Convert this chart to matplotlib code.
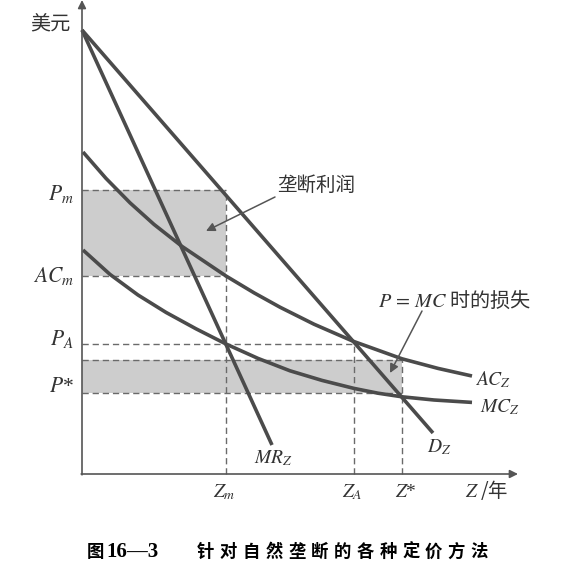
"""Natural monopoly pricing: demand, MR, AC and MC curves with the profit and loss areas."""

import matplotlib
matplotlib.use('Agg')
import matplotlib.pyplot as plt

plt.rcParams['mathtext.fontset'] = 'stix'
cjk = ['Noto Sans CJK SC', 'DejaVu Sans']

# curves (quantity, dollars)
demand_q = [0.0, 8.775]
demand_p = [11.1, 1.025]
mr_q = [0.0, 4.75]
mr_p = [11.1, 0.725]
ac_q = [0.025, 0.6, 1.2, 1.8, 2.5, 3.6, 4.3, 4.95, 5.8, 6.775, 8.0, 8.9, 9.75]
ac_p = [8.05, 7.39, 6.78, 6.24, 5.69, 4.95, 4.53, 4.17, 3.745, 3.32, 2.88, 2.64, 2.45]
mc_q = [0.025, 0.7, 1.4, 2.1, 2.85, 3.6, 4.4, 5.2, 6.0, 6.8, 7.4, 8.0, 8.8, 9.75]
mc_p = [5.6, 4.99, 4.475, 4.04, 3.63, 3.25, 2.89, 2.58, 2.34, 2.14, 2.02, 1.93, 1.85, 1.79]

# marked levels
z_m, z_a, z_star = 3.6, 6.8, 8.0
p_m, ac_m, p_a, ac_star, p_star = 7.1, 4.95, 3.25, 2.85, 2.025
axis_top, axis_right = 11.85, 10.9

curve_col = '#4b4b4b'
dash_col = '#6a6a6a'
shade_col = '#cdcdcd'


def draw_chart():
    fig = plt.figure(figsize=(5.66, 5.66), dpi=100)
    ax = fig.add_axes([0, 0, 1, 1])
    ax.set_xlim(-2.05, 12.1)
    ax.set_ylim(-2.3, 11.85)
    ax.axis('off')

    # shaded areas
    ax.fill_between([0, z_m], ac_m, p_m, color=shade_col, lw=0, zorder=1)
    ax.fill_between([0, z_star], p_star, ac_star, color=shade_col, lw=0, zorder=1)

    # dashed guide lines
    dash = dict(color=dash_col, lw=1.0, dashes=(4.5, 2.8), zorder=2)
    ax.plot([0, z_m], [p_m, p_m], **dash)
    ax.plot([0, z_m], [ac_m, ac_m], **dash)
    ax.plot([z_m, z_m], [0, p_m], **dash)
    ax.plot([0, z_a], [p_a, p_a], **dash)
    ax.plot([z_a, z_a], [0, p_a], **dash)
    ax.plot([0, z_star], [ac_star, ac_star], **dash)
    ax.plot([0, z_star], [p_star, p_star], **dash)
    ax.plot([z_star, z_star], [0, ac_star], **dash)

    # curves
    line = dict(color=curve_col, lw=2.6, solid_capstyle='butt', solid_joinstyle='round', zorder=3)
    ax.plot(demand_q, demand_p, **line)
    ax.plot(mr_q, mr_p, **line)
    ax.plot(ac_q, ac_p, **line)
    ax.plot(mc_q, mc_p, **line)

    # axes with arrows
    arr = dict(arrowstyle='-|>', color='#555555', lw=1.2, mutation_scale=12, shrinkA=0, shrinkB=0)
    ax.annotate('', xy=(0, axis_top), xytext=(0, -0.02), arrowprops=arr, zorder=4)
    ax.annotate('', xy=(axis_right, 0), xytext=(-0.02, 0), arrowprops=arr, zorder=4)

    tc = '#333333'
    ax.text(-0.8, 11.25, '美元', family=cjk, fontsize=14.5, color=tc, ha='center', va='center')

    # left price labels
    lab = dict(fontsize=15.5, color=tc, ha='right', va='baseline')
    ax.text(-0.2, 6.85, r'$P_{m}$', **lab)
    ax.text(-0.2, 4.8, r'$AC_{m}$', **lab)
    ax.text(-0.2, 3.225, r'$P_{A}$', **lab)
    ax.text(-0.2, 2.05, r'$P$*', family='Liberation Serif', **lab)

    # quantity labels
    qlab = dict(fontsize=14, color=tc, ha='left', va='baseline')
    ax.text(3.27, -0.575, r'$Z_{m}$', **qlab)
    ax.text(6.5, -0.575, r'$Z_{A}$', **qlab)
    ax.text(7.82, -0.575, r'$Z$*', family='Liberation Serif', **qlab)
    ax.text(9.57, -0.575, r'$Z$ /年', family=cjk, **qlab)

    # curve labels
    ax.text(4.3, 0.275, r'$MR_{Z}$', **qlab)
    ax.text(8.62, 0.55, r'$D_{Z}$', **qlab)
    ax.text(9.82, 2.225, r'$AC_{Z}$', **qlab)
    ax.text(9.95, 1.55, r'$MC_{Z}$', **qlab)

    # annotations
    ax.text(5.85, 7.225, '垄断利润', family=cjk, fontsize=14, color=tc, ha='center', va='center')
    ax.text(7.4, 4.35, r'$P\,=\,MC$ 时的损失', family=cjk, fontsize=14.5, color=tc,
            ha='left', va='center')
    pointer = dict(arrowstyle='-|>', color='#555555', lw=1.1, mutation_scale=13, shrinkA=0, shrinkB=0)
    ax.annotate('', xy=(3.1, 6.075), xytext=(4.825, 6.925), arrowprops=pointer, zorder=5)
    ax.annotate('', xy=(7.7, 2.525), xytext=(8.5, 4.075), arrowprops=pointer, zorder=5)

    # caption
    ax.text(0.12, -1.95, '图', family=cjk, fontsize=12.5, fontweight='bold',
            color='black', ha='left', va='center')
    ax.text(0.62, -1.95, '16—3', family='Liberation Serif', fontsize=15, fontweight='bold',
            color='black', ha='left', va='center')
    caption = '针对自然垄断的各种定价方法'
    for i, ch in enumerate(caption):
        ax.text(2.875 + i * 0.57, -1.95, ch, family=cjk, fontsize=12.5, fontweight='bold',
                color='black', ha='left', va='center')

    fig.savefig('out.png', dpi=100, facecolor='white')


if __name__ == '__main__':
    draw_chart()
